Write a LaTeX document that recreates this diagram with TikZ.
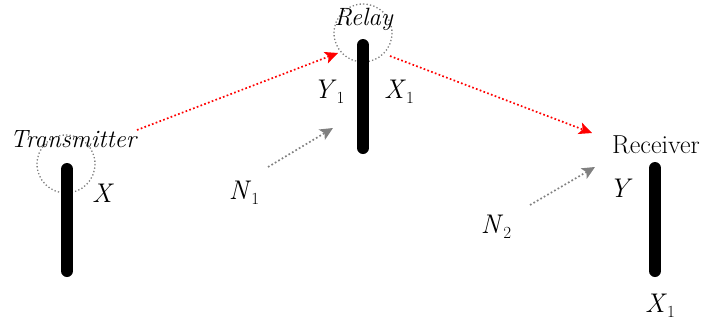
\documentclass[tikz,border=0pt]{standalone}
\usetikzlibrary{arrows.meta}
\newcommand{\lab}[2]{\textit{#1}\raisebox{-0.45ex}{\fontsize{17pt}{17pt}\selectfont #2}}
\begin{document}
\begin{tikzpicture}[x=1pt,y=-1pt,
  antenna/.style={line width=12pt,line cap=round},
  zone/.style={draw=gray,line width=1.3pt,dash pattern=on 1.3pt off 2.2pt},
  sig/.style={red,line width=1.7pt,dash pattern=on 1.7pt off 2.3pt,-{Stealth[length=13pt,width=12pt,inset=3pt]}},
  noise/.style={gray,line width=1.7pt,dash pattern=on 1.7pt off 2.3pt,-{Stealth[length=13pt,width=12pt,inset=3pt]}},
  txt/.style={inner sep=0pt,font=\fontsize{25pt}{25pt}\selectfont},
  mth/.style={inner sep=0pt,font=\fontsize{27pt}{27pt}\selectfont}]
\useasboundingbox (0,0) rectangle (708,324);
% zones
\draw[zone] (66,164) circle (29);
\draw[zone] (363,33) circle (29);
% antennas
\draw[antenna] (67,169) -- (67,271);
\draw[antenna] (363,45) -- (363,148);
\draw[antenna] (655,168) -- (655,271);
% labels
\node[txt,anchor=base] (tx) at (74,147) {\textit{Transmitter}};
\node[txt,anchor=base] (relay) at (364,25) {\textit{Relay}};
\node[txt,anchor=base,font=\fontsize{26pt}{26pt}\selectfont] (rx) at (656,153) {Receiver};
\node[mth] (x) at (103,193) {\textit{X}};
\node[mth] (y1) at (329,92) {\lab{Y}{1}};
\node[mth] (x1) at (399,92) {\lab{X}{1}};
\node[mth] (n1) at (244,193) {\lab{N}{1}};
\node[mth] (n2) at (496,227) {\lab{N}{2}};
\node[mth] (y) at (621,188) {\textit{Y}};
\node[mth] (x1b) at (660,306) {\lab{X}{1}};
% connector ends
\coordinate (s1) at (137,130);
\coordinate (e1) at (338,53);
\coordinate (s2) at (390,56);
\coordinate (e2) at (592,133);
\coordinate (s3) at (268,167);
\coordinate (e3) at (333,128);
\coordinate (s4) at (530,205);
\coordinate (e4) at (595,167);
\draw[sig] (s1) -- (e1);
\draw[sig] (s2) -- (e2);
\draw[noise] (s3) -- (e3);
\draw[noise] (s4) -- (e4);
\end{tikzpicture}
\end{document}
